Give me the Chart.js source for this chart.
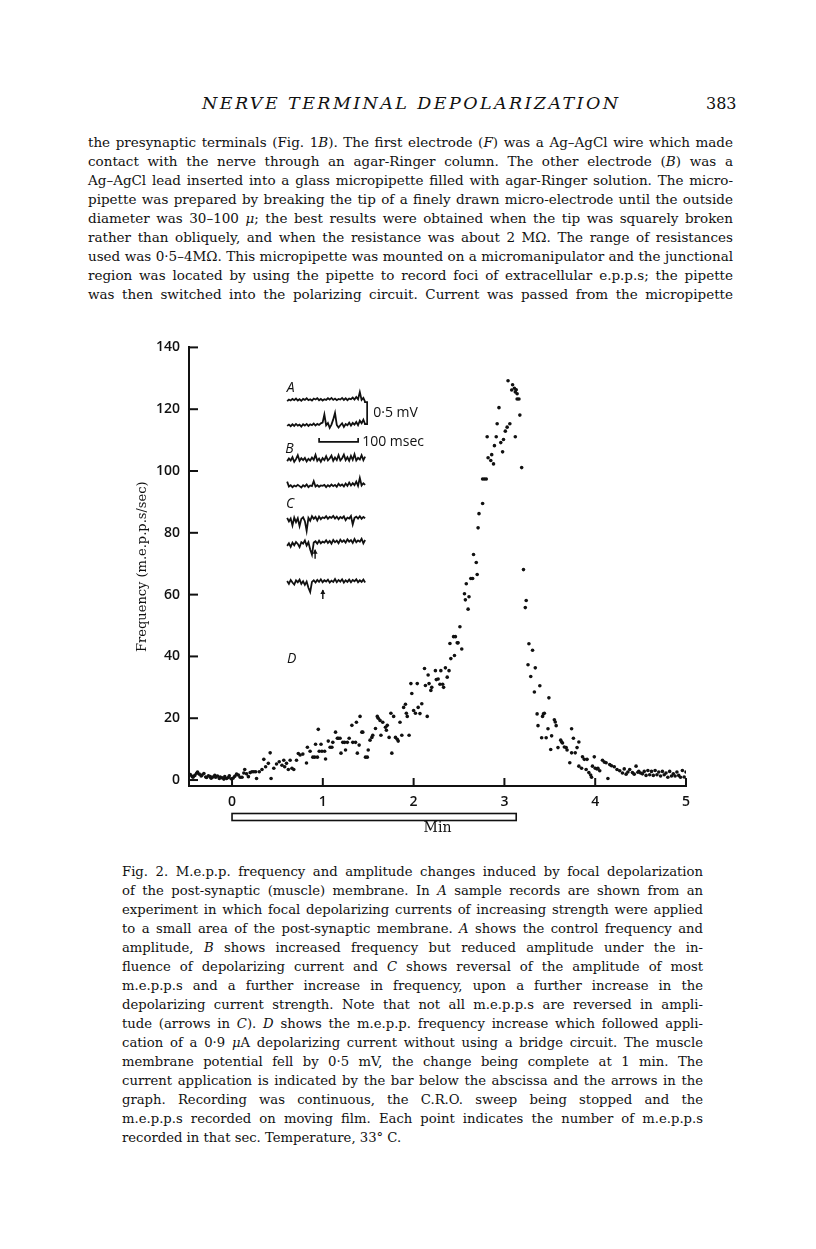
<!DOCTYPE html>
<html><head><meta charset="utf-8">
<script src="https://cdn.jsdelivr.net/npm/chart.js@4.4.0/dist/chart.umd.min.js"></script>
<style>
html,body{margin:0;padding:0;background:#fff;}
body{width:816px;height:1249px;position:relative;overflow:hidden;font-family:"DejaVu Serif",serif;color:#111;}
.ln{position:absolute;white-space:nowrap;line-height:1;}
#chartBox{position:absolute;left:0;top:330px;width:816px;height:520px;}
</style></head><body>
<div id="chartBox"><canvas id="c" width="816" height="520"></canvas></div>
<script>
// ---------- DATA ----------
const TIME_MIN = [
-0.46,-0.44,-0.43,-0.41,-0.39,-0.38,-0.36,-0.34,-0.33,-0.31,-0.29,-0.28,-0.26,-0.24,-0.23,-0.21,-0.19,-0.18,-0.16,-0.14,-0.13,-0.11,-0.09,-0.08,-0.06,-0.04,-0.03,-0.01,
0.01,0.03,0.05,0.07,0.09,0.11,0.13,0.14,0.16,0.18,0.20,0.22,0.24,0.26,0.27,0.30,
0.33,0.35,0.37,0.40,0.42,0.43,0.46,0.49,0.52,0.55,0.57,0.58,0.60,0.62,0.64,0.66,0.68,0.71,0.73,0.75,
0.78,0.82,0.83,0.86,0.89,0.91,0.92,0.94,0.95,0.96,0.98,0.99,1.02,1.03,1.06,1.08,1.10,1.11,1.14,1.16,1.17,1.19,1.20,1.22,1.24,1.25,1.27,1.29,1.32,1.33,1.36,1.37,1.38,1.40,1.41,1.43,1.44,1.47,1.49,1.50,1.52,1.54,1.55,1.58,1.60,1.61,1.63,1.64,1.66,1.69,1.70,1.71,1.73,1.75,1.76,1.78,1.80,1.82,1.83,1.85,1.87,1.89,1.91,1.92,1.93,1.95,1.97,1.98,2.00,2.02,2.04,2.05,
2.07,2.09,2.12,2.13,2.15,2.16,2.17,2.19,2.20,2.24,2.25,2.27,2.29,2.30,2.32,2.33,2.35,2.37,2.39,2.40,2.41,2.44,2.45,2.46,2.48,2.49,2.51,2.53,
2.56,2.57,2.58,2.60,2.61,2.63,2.65,2.66,2.69,2.70,2.71,2.72,2.76,2.76,2.78,2.80,2.81,2.82,2.85,2.86,2.88,2.89,2.91,2.92,2.94,2.96,2.98,2.99,3.01,3.03,3.04,3.06,3.08,3.09,3.11,3.12,3.12,3.13,3.14,3.14,3.16,3.17,3.19,
3.21,3.23,3.24,3.26,3.27,3.29,3.31,3.33,3.34,3.36,3.37,3.39,3.41,3.42,3.43,3.44,3.46,3.48,3.49,3.51,3.52,3.55,3.56,3.57,3.59,3.62,3.63,3.64,3.66,3.68,3.69,3.72,3.74,3.74,3.76,3.78,3.80,3.82,3.82,3.85,3.86,3.88,3.90,3.91,3.93,3.95,3.96,3.97,3.99,
4.00,4.02,4.03,4.05,4.08,4.10,4.12,4.14,4.16,4.18,4.21,4.24,4.27,4.30,4.32,4.34,4.36,4.38,4.41,4.43,4.45,4.47,4.48,4.50,4.52,4.54,4.56,4.58,4.60,4.62,4.64,4.66,4.68,4.70,4.72,4.74,4.76,4.78,4.80,4.82,4.84,4.86,4.88,4.90,4.92,4.94,4.96,4.98,5.00
];
const FREQ = [
1.8,1.2,0.9,1.5,2.2,2.6,1.9,1.3,1.6,2.1,1.0,0.8,1.4,1.1,0.6,1.0,1.5,0.9,1.3,0.5,1.0,0.7,0.3,1.1,0.5,0.8,1.4,0.4,
0.6,1.2,1.9,1.6,0.9,0.9,2.3,3.4,2.0,1.1,2.4,2.7,2.7,2.7,0.5,2.7,
3.4,6.7,4.3,5.4,8.8,0.5,3.8,5.2,5.9,4.8,6.4,4.3,5.4,3.4,6.4,3.8,3.4,6.4,8.6,8.1,
8.4,5.5,10.6,9.3,7.4,7.4,11.6,7.4,16.4,9.3,11.6,9.3,9.3,6.8,12.6,10.6,10.6,12.2,15.5,13.5,13.5,13.5,8.7,12.2,12.2,9.7,12.2,13.5,17.7,12.2,12.2,18.7,8.7,11.3,20.6,15.5,15.5,7.4,7.4,9.7,12.9,13.8,14.5,16.7,20.6,20.0,19.3,14.5,18.7,17.1,16.1,17.7,13.8,21.6,8.7,20.6,13.8,13.2,12.6,18.7,14.5,23.5,24.5,21.6,20.6,14.5,31.2,28.0,22.5,21.6,31.2,23.5,
21.5,24.7,36.1,30.6,20.6,34.0,31.2,29.0,30.0,35.4,32.5,32.7,31.0,35.4,31.0,30.0,36.3,33.3,35.4,44.2,39.3,46.4,40.3,46.4,44.4,44.4,49.6,42.4,
60.3,58.3,63.5,55.3,59.3,65.2,65.2,73.0,70.4,66.5,81.6,86.2,89.5,97.4,97.4,97.4,111.1,104.3,103.4,105.3,102.3,108.2,111.1,115.3,120.5,109.2,106.2,110.2,112.9,114.2,129.2,115.3,126.2,127.9,126.8,125.6,111.1,126.3,125.0,123.3,123.3,118.1,101.1,
68.1,55.8,58.1,37.3,44.1,33.5,42.0,28.5,36.3,21.4,17.6,30.5,13.7,20.6,21.4,21.6,13.7,16.6,26.6,9.9,14.3,19.5,18.8,17.6,10.5,12.9,12.3,12.0,10.7,10.5,9.7,5.6,16.6,8.8,13.5,8.8,10.5,12.3,4.5,3.8,7.5,6.7,3.4,6.7,2.4,1.6,0.9,4.5,7.5,
3.8,3.6,3.8,3.0,6.4,5.8,5.6,0.5,5.0,4.6,4.3,3.4,3.0,2.3,3.6,1.9,2.6,3.4,2.4,1.9,4.5,2.5,2.8,2.3,2.0,2.8,1.5,3.1,1.7,2.8,1.5,3.1,1.7,2.6,1.3,2.8,1.7,2.3,0.9,2.8,1.3,2.0,1.3,2.6,1.5,0.9,3.1,1.0,2.6
];
const X_TICKS = [0,1,2,3,4,5];
const Y_TICKS = [0,20,40,60,80,100,120,140];
const CURRENT_ON = 0;      // min
const CURRENT_OFF = 3.13;  // min

// inset sample records (relative deflections, chart units)
const TRACE_A1 = [0,0.5,0.2,0.7,0.3,0.8,0.2,0.6,0.1,0.7,0.4,0.9,0.3,0.6,0.2,0.8,0.5,0.9,0.3,0.7,0.2,0.6,0.4,0.9,0.5,1.0,0.4,0.8,0.3,0.7,0.5,1.0,0.4,0.9,0.3,0.8,0.6,1.1,0.5,1.3,0.6,2.8,0.4,1.0,-0.2];
const TRACE_A2 = [0,0.4,-0.1,0.5,0,0.6,0.1,0.4,-0.2,0.5,0.1,0.6,0,0.5,0.2,0.7,0.1,0.6,0.3,0.8,1.0,3.5,0.2,0.9,-0.6,0.4,2.0,4.0,0.3,-0.5,0.2,0.8,-0.3,0.6,0.2,1.0,0.1,0.9,0.4,1.2,0.2,1.6,0.8,1.9,0.5];
const TRACE_B1 = [0,0.8,0.2,1.2,-0.2,0.6,1.8,0.1,0.9,0.3,1.0,-0.1,0.7,0.2,1.1,0.4,1.9,0.1,0.8,-0.2,0.9,0.3,1.5,0.2,0.8,1.7,0.1,1.1,0.3,1.8,0.2,0.9,2.0,0.3,1.2,0.1,1.6,0.4,2.1,0.2,1.0,0.5,1.8,0.3,1.4];
const TRACE_B2 = [1.5,0,0.4,-0.2,0.3,0,0.5,0.1,-0.3,0.4,0,0.6,-0.2,0.3,0.1,1.6,0,0.4,-0.1,0.3,0.2,0.5,-0.2,0.4,0,0.6,0.1,0.5,-0.1,0.8,0.2,0.6,0,0.9,0.2,1.2,0.3,1.0,0.4,1.5,0.2,2.6,0.3,1.0,0.5];
const TRACE_C1 = [0.5,-0.6,0.3,-1.8,0.6,-0.8,0.4,-2.0,0.2,0.7,-0.5,-3.5,0.5,-0.4,1.0,0.2,0.8,-0.3,0.9,0.1,0.7,0.4,1.0,0.2,0.8,0.5,1.1,0.3,0.9,0.1,0.8,0.4,1.0,-0.2,0.6,0.3,1.1,-1.5,0.5,0.9,0.3,1.0,0.2,0.8,0.4];
const TRACE_C2 = [-0.5,0.3,-0.8,0.5,-0.3,0.7,0.1,-0.9,0.6,0.2,1.2,-0.4,0.6,-1.6,-3.2,0.5,0.9,0.2,1.1,0.3,0.8,0.5,1.2,0.4,1.0,0.2,1.3,0.6,1.1,0.3,1.4,0.7,1.2,0.5,1.5,0.8,1.3,0.4,1.6,0.6,1.2,0.8,1.7,0.3,1.3];
const TRACE_C3 = [0.6,-0.3,0.9,0.1,-0.5,0.8,0.2,1.0,-0.3,0.5,-0.6,0.4,-1.5,-2.8,0.3,0.8,0.1,0.9,0.3,1.1,0.2,0.8,0.4,1.0,0.1,0.7,0.3,1.2,0.2,0.9,0.4,1.1,0.1,0.8,0.3,1.0,0.2,0.9,0.5,1.1,0.2,0.8,0.3,1.0,0.1];

const BODY_LINES = [
"the presynaptic terminals (Fig. 1<i>B</i>). The first electrode (<i>F</i>) was a Ag–AgCl wire which made",
"contact with the nerve through an agar-Ringer column. The other electrode (<i>B</i>) was a",
"Ag–AgCl lead inserted into a glass micropipette filled with agar-Ringer solution. The micro-",
"pipette was prepared by breaking the tip of a finely drawn micro-electrode until the outside",
"diameter was 30–100 <i>μ</i>; the best results were obtained when the tip was squarely broken",
"rather than obliquely, and when the resistance was about 2 MΩ. The range of resistances",
"used was 0·5–4MΩ. This micropipette was mounted on a micromanipulator and the junctional",
"region was located by using the pipette to record foci of extracellular e.p.p.s; the pipette",
"was then switched into the polarizing circuit. Current was passed from the micropipette"
];
const CAPTION_LINES = [
"Fig. 2. M.e.p.p. frequency and amplitude changes induced by focal depolarization",
"of the post-synaptic (muscle) membrane. In <i>A</i> sample records are shown from an",
"experiment in which focal depolarizing currents of increasing strength were applied",
"to a small area of the post-synaptic membrane. <i>A</i> shows the control frequency and",
"amplitude, <i>B</i> shows increased frequency but reduced amplitude under the in-",
"fluence of depolarizing current and <i>C</i> shows reversal of the amplitude of most",
"m.e.p.p.s and a further increase in frequency, upon a further increase in the",
"depolarizing current strength. Note that not all m.e.p.p.s are reversed in ampli-",
"tude (arrows in <i>C</i>). <i>D</i> shows the m.e.p.p. frequency increase which followed appli-",
"cation of a 0·9 <i>μ</i>A depolarizing current without using a bridge circuit. The muscle",
"membrane potential fell by 0·5 mV, the change being complete at 1 min. The",
"current application is indicated by the bar below the abscissa and the arrows in the",
"graph. Recording was continuous, the C.R.O. sweep being stopped and the",
"m.e.p.p.s recorded on moving film. Each point indicates the number of m.e.p.p.s",
"recorded in that sec. Temperature, 33° C."
];
const HEADER = "NERVE TERMINAL DEPOLARIZATION";
const PAGE_NO = "383";
const Y_TITLE = "Frequency (m.e.p.p.s/sec)";
const X_TITLE = "Min";

// ---------- LAYOUT / STYLE ----------
const INSET = {
  x0: 0.607, x1: 1.466,
  traces: [
    {v: TRACE_A1, level: 122.6}, {v: TRACE_A2, level: 114.6},
    {v: TRACE_B1, level: 103.2}, {v: TRACE_B2, level: 95.0},
    {v: TRACE_C1, level: 84.3},  {v: TRACE_C2, level: 76.3},
    {v: TRACE_C3, level: 63.8}
  ],
  letters: [{t:'A',x:0.603,y:126.8},{t:'B',x:0.585,y:107.2},{t:'C',x:0.595,y:89.2},{t:'D',x:0.606,y:39.3}],
  vbar: {x:1.488, y0:115.2, y1:122.3, label:'0·5 mV', lx:1.555},
  hbar: {x0:0.959, x1:1.389, y:109.4, label:'100 msec', lx:1.433},
  arrows: [{x:0.915, y:74.5}, {x:1.0, y:61.5}]
};
const INK = '#111';
const SANS = '"Open Sans", "DejaVu Sans", sans-serif';

// ---------- TEXT ----------
function placeLine(html, left, width, cy, size, justify, extraStyle) {
  const d = document.createElement('div');
  d.className = 'ln';
  d.innerHTML = html;
  d.style.left = left + 'px';
  d.style.fontSize = size + 'px';
  d.style.top = (cy - 0.55 * size) + 'px';
  if (extraStyle) Object.assign(d.style, extraStyle);
  document.body.appendChild(d);
  if (justify) {
    const nat = d.getBoundingClientRect().width;
    const spaces = (d.textContent.match(/ /g) || []).length;
    if (nat <= width) d.style.wordSpacing = ((width - nat) / spaces) + 'px';
    else d.style.letterSpacing = ((width - nat) / d.textContent.length) + 'px';
  }
  return d;
}
// header
(function(){
  const h = placeLine(HEADER, 202, 0, 105, 17.5, false, {fontStyle:'italic'});
  const nat = h.getBoundingClientRect().width;
  h.style.letterSpacing = ((416 - nat) / (HEADER.length - 1)) + 'px';
  placeLine(PAGE_NO, 706, 0, 105, 16, false);
})();
BODY_LINES.forEach((l, i) => placeLine(l, 88, 645, 143 + 19 * i, 13.5, true));
CAPTION_LINES.forEach((l, i) => placeLine(l, 122, 581, 872 + 19.05 * i, 13.2, i < CAPTION_LINES.length - 1));

// ---------- CHART ----------
const points = TIME_MIN.map((t, i) => ({x: t, y: FREQ[i]}));
const span = (INSET.x1 - INSET.x0);
const traceSets = INSET.traces.map(tr => ({
  type: 'line',
  data: tr.v.map((v, i) => ({x: INSET.x0 + span * i / (tr.v.length - 1), y: tr.level + v * 1.05})),
  borderColor: INK, borderWidth: 1.8, pointRadius: 0, tension: 0, fill: false
}));

const decor = {
  id: 'decor',
  afterDraw(chart) {
    const ctx = chart.ctx, xs = chart.scales.x, ys = chart.scales.y, ca = chart.chartArea;
    ctx.save();
    ctx.strokeStyle = INK; ctx.fillStyle = INK; ctx.lineWidth = 2;
    // inward ticks
    Y_TICKS.forEach(v => { const y = ys.getPixelForValue(v); ctx.beginPath(); ctx.moveTo(ca.left, y); ctx.lineTo(ca.left + 9, y); ctx.stroke(); });
    X_TICKS.forEach(v => { const x = xs.getPixelForValue(v); ctx.beginPath(); ctx.moveTo(x, ca.bottom); ctx.lineTo(x, ca.bottom - 8); ctx.stroke(); });
    // current bar
    const b0 = xs.getPixelForValue(CURRENT_ON), b1 = xs.getPixelForValue(CURRENT_OFF);
    ctx.lineWidth = 1.6;
    ctx.strokeRect(b0, ca.bottom + 27.5, b1 - b0, 7);
    // inset letters
    ctx.textBaseline = 'middle'; ctx.textAlign = 'left';
    ctx.font = 'italic 14px ' + SANS;
    INSET.letters.forEach(l => ctx.fillText(l.t, xs.getPixelForValue(l.x), ys.getPixelForValue(l.y)));
    // calibration bars
    ctx.lineWidth = 1.7;
    const vx = xs.getPixelForValue(INSET.vbar.x), vy0 = ys.getPixelForValue(INSET.vbar.y0), vy1 = ys.getPixelForValue(INSET.vbar.y1);
    ctx.beginPath(); ctx.moveTo(vx - 3, vy1); ctx.lineTo(vx, vy1); ctx.lineTo(vx, vy0); ctx.lineTo(vx - 3, vy0); ctx.stroke();
    ctx.font = '14px ' + SANS;
    ctx.fillText(INSET.vbar.label, xs.getPixelForValue(INSET.vbar.lx), (vy0 + vy1) / 2);
    const hx0 = xs.getPixelForValue(INSET.hbar.x0), hx1 = xs.getPixelForValue(INSET.hbar.x1), hy = ys.getPixelForValue(INSET.hbar.y);
    ctx.beginPath(); ctx.moveTo(hx0, hy - 4); ctx.lineTo(hx0, hy); ctx.lineTo(hx1, hy); ctx.lineTo(hx1, hy - 4); ctx.stroke();
    ctx.fillText(INSET.hbar.label, xs.getPixelForValue(INSET.hbar.lx), hy);
    // arrows
    ctx.lineWidth = 1.4;
    INSET.arrows.forEach(a => {
      const x = xs.getPixelForValue(a.x), y = ys.getPixelForValue(a.y);
      ctx.beginPath(); ctx.moveTo(x, y); ctx.lineTo(x, y + 9); ctx.stroke();
      ctx.beginPath(); ctx.moveTo(x - 2.5, y + 4); ctx.lineTo(x, y - 0.5); ctx.lineTo(x + 2.5, y + 4); ctx.closePath(); ctx.fill();
    });
    ctx.restore();
  }
};

new Chart(document.getElementById('c'), {
  type: 'scatter',
  data: {
    datasets: [
      {data: points, backgroundColor: INK, borderWidth: 0, pointRadius: 1.8, showLine: false},
      ...traceSets
    ]
  },
  options: {
    responsive: false, animation: false, devicePixelRatio: 1,
    layout: {padding: {left: 135, right: 130, top: 15, bottom: 10}},
    plugins: {legend: {display: false}, tooltip: {enabled: false}},
    scales: {
      x: {
        type: 'linear', min: -0.474, max: 5.0,
        afterBuildTicks: s => { s.ticks = X_TICKS.map(v => ({value: v})); },
        afterFit: s => { s.height = 54; },
        grid: {display: false, drawTicks: false},
        border: {display: true, color: INK, width: 2},
        ticks: {color: INK, padding: 8, font: {family: SANS, size: 14, weight: '600'}, maxRotation: 0},
        title: {display: true, text: X_TITLE, color: INK, font: {family: '"DejaVu Serif", serif', size: 14}, padding: {top: 0, bottom: 3}}
      },
      y: {
        min: -1.93, max: 140,
        afterBuildTicks: s => { s.ticks = Y_TICKS.map(v => ({value: v})); },
        afterFit: s => { s.width = 54; },
        grid: {display: false, drawTicks: false},
        border: {display: true, color: INK, width: 2},
        ticks: {color: INK, padding: 9, font: {family: SANS, size: 14, weight: '600'}},
        title: {display: true, text: Y_TITLE, color: INK, font: {family: '"DejaVu Serif", serif', size: 13}, padding: {top: 0, bottom: 0}}
      }
    }
  },
  plugins: [decor]
});
</script>
</body></html>
